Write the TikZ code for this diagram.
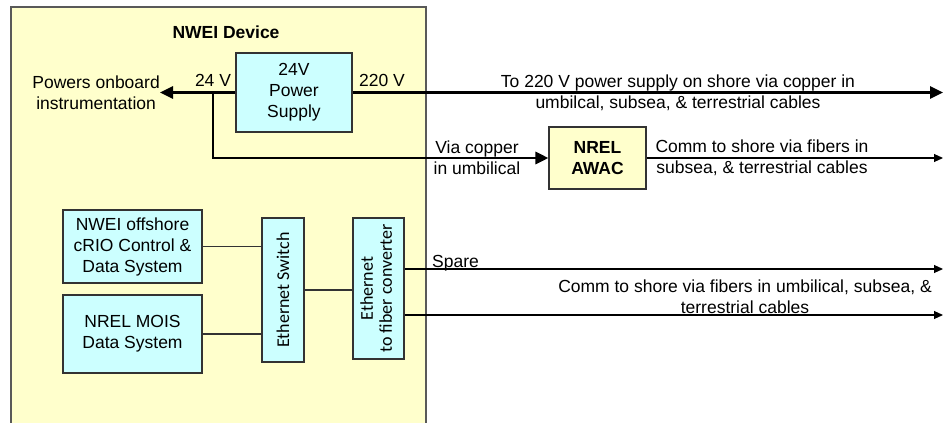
\documentclass[tikz,border=0pt]{standalone}
\usepackage{fontspec}
\setmainfont{Liberation Sans}
\newfontfamily\calfont{Carlito}
\usepackage{xcolor}
\usetikzlibrary{arrows.meta,positioning,calc}
\definecolor{devfill}{HTML}{FFFFCC}
\definecolor{unitfill}{HTML}{CCFFFF}

\begin{document}
\begin{tikzpicture}[x=1pt, y=-1pt,
  unit/.style={draw=black!80, fill=unitfill, line width=1.1pt, align=center, inner sep=0pt, font=\fontsize{17.5}{21}\selectfont},
  awac/.style={unit, fill=devfill, font=\fontsize{17.5}{21}\selectfont\bfseries},
  txt/.style={align=center, inner sep=0pt, font=\fontsize{17.5}{21}\selectfont},
  power/.style={-{Triangle[length=13pt, width=12pt]}, draw=black, line width=2.8pt},
  comm/.style={-{Triangle[length=9pt, width=8pt]}, draw=black, line width=1.1pt},
  wire/.style={draw=black!80, line width=1.1pt}
]
\clip (0,0) rectangle (943,423);
\fill[white] (0,0) rectangle (943,423);
\draw[fill=devfill, draw=black!65, line width=1.3pt] (11,7) rectangle (426,440);
\node[txt, font=\fontsize{17.5}{21}\selectfont\bfseries] (dev) at (226,32) {NWEI Device};
% power path
\node[unit, minimum width=116, minimum height=79] (ps) at (294,92.5) {24V\\Power\\Supply};
\node[txt, anchor=east] (onb) at (160,92.5) {Powers onboard\\instrumentation};
\node[txt] (v24) at (213,80) {24 V};
\node[txt] (v220) at (382,80) {220 V};
\coordinate (tap) at (213,92.5);
\coordinate (shore) at (943,92.5);
\node[txt] (ptxt) at (678,92.5) {To 220 V power supply on shore via copper in\\umbilcal, subsea, \& terrestrial cables};
\draw[power] (ps.west) -- (onb.east);
\draw[power] (ps.east) -- (shore);
\node[awac, minimum width=97, minimum height=62] (aw) at (597.5,158) {NREL\\AWAC};
\node[txt] (cu) at (477,158) {Via copper\\in umbilical};
\draw[power] (tap) |- (aw.west);
\coordinate (awshore) at (943,158);
\node[txt] (awtxt) at (762,158) {Comm to shore via fibers in\\subsea, \& terrestrial cables};
\draw[comm] (aw.east) -- (awshore);
% data path
\node[unit, minimum width=139, minimum height=73] (crio) at (132.5,246.5) {NWEI offshore\\cRIO Control \&\\Data System};
\node[unit, minimum width=139, minimum height=78] (mois) at (132.5,334) {NREL MOIS\\Data System};
\node[unit, minimum width=42, minimum height=144, font=\calfont\fontsize{18}{21}\selectfont] (sw) at (283,290) {\rotatebox{90}{Ethernet Switch}};
\node[unit, minimum width=51, minimum height=141, font=\calfont\fontsize{18}{19}\selectfont] (conv) at (378.5,288.5) {\rotatebox{90}{\begin{tabular}{@{}c@{}}Ethernet\\to fiber converter\end{tabular}}};
\draw[wire] (crio.east) -- (crio.east -| sw.west);
\draw[wire] (mois.east) -- (mois.east -| sw.west);
\draw[wire] (sw.east) -- (sw.east -| conv.west);
\coordinate (spare) at (943,269);
\coordinate (fiber) at (943,315);
\node[txt, anchor=base west] (sptxt) at (432,267) {Spare};
\node[txt] (fbtxt) at (745,297) {Comm to shore via fibers in umbilical, subsea, \&\\terrestrial cables};
\draw[comm] (conv.east |- spare) -- (spare);
\draw[comm] (conv.east |- fiber) -- (fiber);
\end{tikzpicture}
\end{document}
